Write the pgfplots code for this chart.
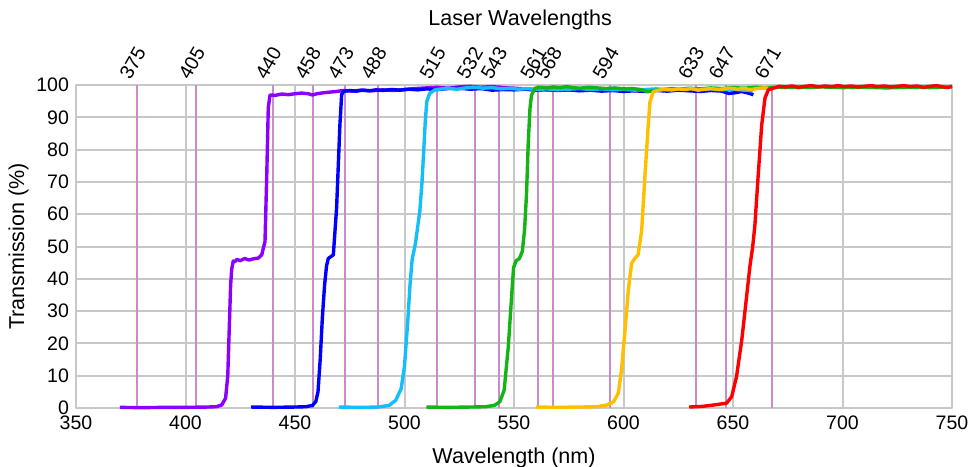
\documentclass[border=0pt]{standalone}
\usepackage{fontspec}
\setmainfont{Liberation Sans}
\usepackage{pgfplots}
\pgfplotsset{compat=1.18}
\definecolor{gridgray}{RGB}{200,200,200}
\definecolor{laser}{RGB}{200,140,205}
\definecolor{cviolet}{RGB}{140,0,255}
\definecolor{cblue}{RGB}{0,0,255}
\definecolor{ccyan}{RGB}{20,190,250}
\definecolor{cgreen}{RGB}{20,180,20}
\definecolor{cyellow}{RGB}{255,190,0}
\definecolor{cred}{RGB}{255,0,0}
\begin{document}
\begin{tikzpicture}
\begin{axis}[
  width=438bp, height=161.5bp, scale only axis,
  xmin=350, xmax=750, ymin=0, ymax=100,
  xtick={350,400,...,750}, ytick={0,10,...,100},
  grid=major, major grid style={gridgray, line width=1bp},
  axis line style={gridgray, line width=1bp},
  tick style={draw=none},
  /pgf/number format/assume math mode=true,
  ticklabel style={font=\fontsize{9.8}{11}\selectfont, text=black},
  xticklabel style={yshift=-0.5bp},
  label style={font=\fontsize{10.8}{12}\selectfont},
  xlabel={Wavelength (nm)}, ylabel={Transmission (\%)},
  xlabel style={yshift=-2bp},
  ylabel style={yshift=-3bp},
  clip=false,
  line join=round,
]
% laser lines
\foreach \w in {378,405,440,458,473,488,515,532,543,561,568,594,633,647,668} {
  \edef\tmp{\noexpand\addplot[laser, line width=1bp, forget plot] coordinates {(\w,0)(\w,100)};}
  \tmp
}
% labels
\foreach \w/\l in {378/375,405/405,440/440,458/458,473/473,488/488,515/515,532/532,543/543,561/561,568/568,594/594,633/633,647/647,668/671} {
  \edef\tmp{\noexpand\node[anchor=west, rotate=60, inner sep=0pt, yshift=7.5bp, font=\noexpand\fontsize{9.8}{11}\noexpand\selectfont] at (axis cs:\w,100) {\l};}
  \tmp
}
\node[font=\fontsize{10.8}{12}\selectfont, yshift=32.5bp] at (rel axis cs:0.507,1) {Laser Wavelengths};
\coordinate (O) at (rel axis cs:0,0);
\coordinate (E) at (rel axis cs:1,1);

% violet
\addplot[cviolet, line width=1.7bp] coordinates {
(370,0.2)(380,0.1)(390,0.2)(400,0.2)(410,0.3)(414,0.4)(416.5,0.9)(418.3,3)(419.3,10)(420,25)(420.6,38)(421.1,43)(421.8,45.5)(422.5,45.3)(423.5,46)(425,45.6)(427,46.3)(429,45.8)(431,46.2)(433.2,46.4)(434.8,47.4)(436.3,51.5)(437.1,72)(437.8,93)(438.6,96.9)
(441,96.8)(444,97.2)(447,97.0)(450,97.3)(453,97.5)(456,97.3)(458,96.9)(460,97.3)(463,97.6)(466,97.8)(469,98.0)(472,98.3)(476,98.1)(480,98.4)(485,98.2)(490,98.5)(495,98.3)(500,98.6)(505,98.9)(510,99.1)(515,99.3)(520,99.0)(525,99.4)(530,99.6)(535,99.3)(540,99.5)(545,99.2)(550,99.0)(555,98.8)(560,98.6)(570,98.4)(580,98.5)
};
% blue
\addplot[cblue, line width=1.7bp] coordinates {
(430,0.3)(440,0.2)(450,0.3)(455,0.4)(458,0.8)(459.5,2)(460.5,5)(461.5,15)(462.5,28)(463.5,38)(464.4,44)(465.2,46.3)(467.5,47.4)(469,62)(470.5,87.6)(471.3,97)(472.1,98.0)
(475,98.3)(478,98.1)(481,98.4)(484,98.2)(487,98.5)(490,98.3)(494,98.6)(498,98.4)(502,98.7)(506,98.5)(510,98.8)(515,98.6)(520,98.9)(525,99.0)(530,98.7)(535,98.9)(540,98.4)(545,98.6)(550,98.5)(555,98.7)(560,98.4)(565,98.6)(570,98.3)(575,98.5)(580,98.2)(585,98.4)(590,98.1)(595,98.3)(600,98.0)(605,98.2)(610,98.0)(615,98.3)(620,98.1)(625,98.4)(630,98.2)(635,98.0)(640,98.3)(645,98.1)(648,97.4)(651,97.6)(654,98.0)(657,97.5)(659.3,97.0)
};
% cyan
\addplot[ccyan, line width=1.7bp] coordinates {
(470,0.3)(480,0.2)(488,0.3)(493,0.8)(496,2.4)(498.5,6)(500,13)(501.5,27)(502.5,38)(503.5,46)(505,51)(506,56)(507,61)(508,70)(508.8,80)(509.5,89)(510.2,95)(511.5,97.4)(513.9,98.5)
(517,98.8)(520,99.0)(524,98.7)(528,99.1)(532,99.3)(536,99.0)(540,99.2)(544,98.8)(548,99.0)(552,98.7)(556,98.9)(560,98.6)(565,98.8)(570,98.5)(575,98.7)(580,98.9)(585,98.6)(590,98.8)(595,98.5)(600,98.7)(605,98.4)(610,98.6)(615,98.8)(620,98.5)(625,98.7)(630,98.9)(635,98.6)(640,98.8)(645,98.5)(650,98.7)(655,98.4)(659,98.2)
};
% green
\addplot[cgreen, line width=1.7bp] coordinates {
(510,0.3)(520,0.2)(530,0.3)(537,0.4)(541,0.8)(543.5,1.9)(545.5,5.5)(547.4,19)(548.9,34.5)(549.8,43.5)(551,45.6)(552.5,46.3)(553.8,48.5)(554.8,55)(555.7,66)(556.5,82)(557.3,92.8)(558,96.9)(559.6,99.0)
(562,99.3)(565,99.1)(568,99.4)(571,99.2)(574,99.5)(577,99.2)(580,99.0)(584,99.3)(588,99.1)(592,98.9)(596,99.1)(600,98.8)(604,98.9)(608,98.6)(611,97.9)(614,98.3)(618,98.6)(622,98.9)(626,98.7)(630,99.0)(635,98.8)(640,99.1)(645,98.9)(650,99.2)(655,99.0)(660,99.3)(665,99.1)(670,99.3)(680,99.2)(690,99.4)(700,99.2)(710,99.3)(720,99.1)(730,99.3)(740,99.2)(750,99.4)
};
% yellow
\addplot[cyellow, line width=1.7bp] coordinates {
(560,0.3)(570,0.2)(580,0.3)(588,0.4)(592.3,0.9)(595.4,1.9)(597.6,4.5)(599.1,11.8)(600.7,24.1)(602.2,36.5)(603.7,44.8)(605.2,46.3)(606.7,47.5)(608.3,55)(609.8,72)(611.3,87.6)(612.1,94.8)(613.6,97.9)
(616,98.4)(619,98.7)(622,98.5)(625,98.8)(628,98.6)(631,98.9)(634,98.4)(637,98.7)(640,98.9)(643,98.6)(646,98.8)(649,99.0)(652,98.7)(655,98.9)(658,98.6)(661,98.9)(664,99.1)(666,99.0)
};
% red
\addplot[cred, line width=1.7bp] coordinates {
(630,0.3)(636,0.5)(640.9,0.9)(647.1,1.5)(649.4,3.5)(651.6,9.7)(654,21)(656.2,34.5)(657.8,44.3)(659,50)(660,56.6)(661.5,72)(663.1,87.6)(664.6,95.9)(666.1,98.5)
(668.4,99.0)(671,99.6)(674,99.4)(677,99.7)(680,99.3)(683,99.6)(686,99.8)(689,99.4)(692,99.7)(695,99.5)(698,99.8)(701,99.5)(704,99.7)(707,99.4)(710,99.6)(713,99.8)(716,99.5)(719,99.7)(722,99.4)(725,99.6)(728,99.8)(731,99.5)(734,99.7)(737,99.3)(740,99.6)(743,99.8)(746,99.4)(748,99.2)(750,99.6)
};
\end{axis}
\pgfresetboundingbox
\path[use as bounding box] ([shift={(-38bp,-29.5bp)}]O) rectangle ([shift={(9.5bp,42.5bp)}]E);
\end{tikzpicture}
\end{document}
